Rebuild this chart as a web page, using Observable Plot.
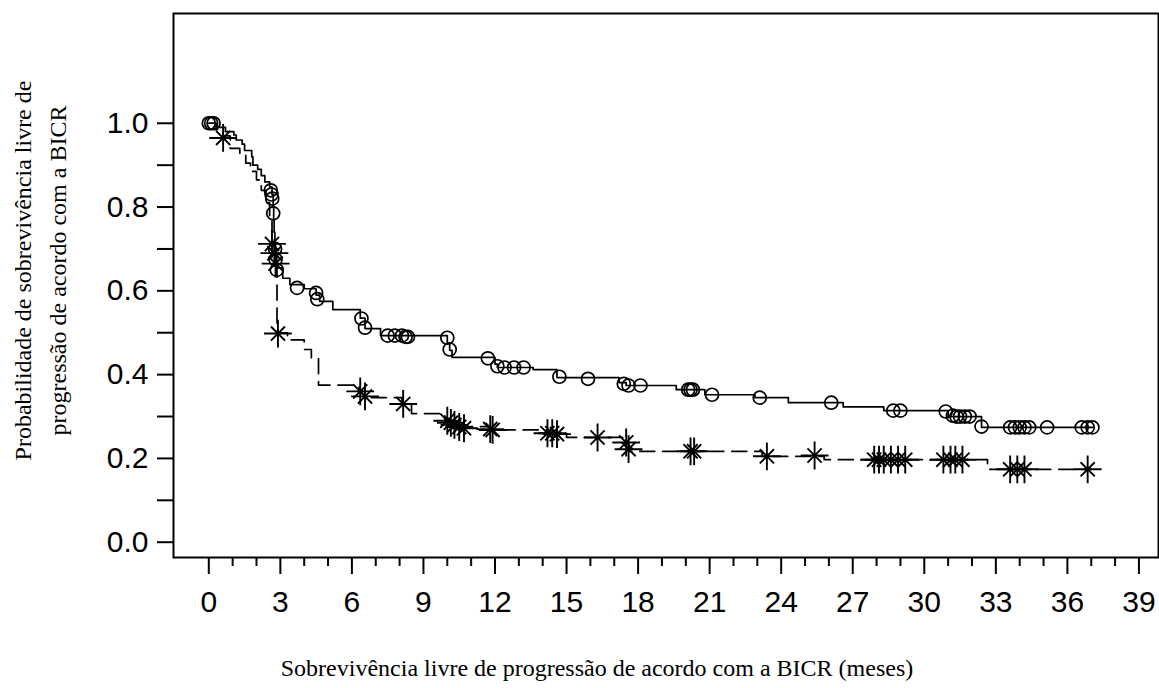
<!DOCTYPE html>
<html><head><meta charset="utf-8">
<script src="https://cdn.jsdelivr.net/npm/d3@7"></script>
<script src="https://cdn.jsdelivr.net/npm/@observablehq/plot@0.6"></script>
<style>html,body{margin:0;padding:0;background:#fff}svg{display:block}</style>
</head><body><div id="chart"></div>
<script>
// Arm A (solid line, open circles = censored)
const stepTimesA = [0,0.35,0.7,1.05,1.15,1.4,1.5,1.8,1.85,2.05,2.2,2.35,2.55,2.65,2.7,2.72,2.74,2.77,2.8,2.85,3.1,3.4,4.0,4.5,4.65,5.2,6.35,6.55,7.2,10.0,10.1,10.2,12.0,12.1,13.6,14.6,17.2,17.5,19.6,20.8,22.9,24.3,26.6,28.3,31.0,32.4,37.05];
const stepSurvA  = [1.0,0.99,0.98,0.972,0.96,0.95,0.935,0.92,0.9,0.89,0.875,0.86,0.848,0.83,0.8,0.77,0.74,0.71,0.68,0.655,0.63,0.615,0.605,0.59,0.575,0.555,0.535,0.51,0.493,0.475,0.458,0.441,0.425,0.417,0.412,0.393,0.381,0.374,0.364,0.352,0.345,0.333,0.323,0.314,0.3,0.274,0.274];
const censorTimesA = [0,0.1,0.2,2.6,2.63,2.66,2.7,2.78,2.8,2.85,3.7,4.5,4.55,6.4,6.55,7.5,7.8,8.1,8.25,8.35,10.0,10.1,11.7,12.1,12.4,12.8,13.2,14.7,15.9,17.4,17.6,18.1,20.1,20.2,20.3,21.1,23.1,26.1,28.7,29.0,30.9,31.2,31.35,31.5,31.7,31.9,32.4,33.6,33.8,34.0,34.2,34.4,35.15,36.6,36.85,37.05];
const censorSurvA  = [1.0,1.0,1.0,0.84,0.83,0.82,0.785,0.7,0.675,0.65,0.607,0.595,0.58,0.534,0.512,0.493,0.493,0.493,0.49,0.49,0.488,0.46,0.439,0.42,0.417,0.417,0.417,0.395,0.39,0.378,0.374,0.374,0.364,0.364,0.364,0.352,0.345,0.333,0.314,0.314,0.312,0.302,0.3,0.3,0.3,0.3,0.276,0.274,0.274,0.274,0.274,0.274,0.274,0.274,0.274,0.274];

// Arm B (dashed line, asterisks = censored)
const stepTimesB = [0,0.3,0.6,0.9,1.3,1.55,1.75,2.0,2.2,2.4,2.55,2.65,2.75,2.8,2.86,3.3,4.0,4.3,4.6,6.3,6.55,8.1,8.5,9.9,10.3,11.8,14.2,15.0,17.5,17.6,23.2,25.8,32.65,37.0];
const stepSurvB  = [1.0,0.985,0.97,0.94,0.925,0.905,0.885,0.865,0.84,0.81,0.775,0.72,0.69,0.665,0.5,0.483,0.46,0.44,0.375,0.36,0.345,0.33,0.307,0.29,0.276,0.268,0.26,0.25,0.236,0.217,0.205,0.197,0.174,0.174];
const censorTimesB = [0.6,2.65,2.75,2.8,2.9,6.35,6.55,8.15,10.0,10.15,10.3,10.5,10.7,11.8,11.9,14.2,14.4,14.6,16.3,17.5,17.6,20.2,20.35,23.4,25.4,27.9,28.1,28.3,28.6,28.9,29.2,30.8,31.1,31.3,31.6,33.6,33.9,34.2,36.85];
const censorSurvB  = [0.965,0.712,0.69,0.665,0.498,0.36,0.348,0.33,0.29,0.285,0.28,0.275,0.272,0.27,0.268,0.26,0.26,0.258,0.25,0.238,0.222,0.217,0.217,0.205,0.207,0.197,0.197,0.197,0.197,0.197,0.197,0.197,0.197,0.197,0.197,0.174,0.174,0.174,0.174];

const xMajorTicks = [0,3,6,9,12,15,18,21,24,27,30,33,36,39];
const xMinorTicks = [1,2,4,5,7,8,10,11,13,14,16,17,19,20,22,23,25,26,28,29,31,32,34,35,37,38];
const yMajorTicks = [0,0.2,0.4,0.6,0.8,1.0];
const yMinorTicks = [0.1,0.3,0.5,0.7,0.9];

const xLabel = "Sobrevivência livre de progressão de acordo com a BICR (meses)";
const yLabel = "Probabilidade de sobrevivência livre de\nprogressão de acordo com a BICR";

const stepsA = stepTimesA.map((t,i)=>({t, s: stepSurvA[i]}));
const stepsB = stepTimesB.map((t,i)=>({t, s: stepSurvB[i]}));
const censA = censorTimesA.map((t,i)=>({t, s: censorSurvA[i]}));
const censB = censorTimesB.map((t,i)=>({t, s: censorSurvB[i]}));

const sans = "'Liberation Sans', Arial, sans-serif";
const serif = "'Liberation Serif', 'Times New Roman', serif";

const chart = Plot.plot({
  width: 1159,
  height: 688,
  marginLeft: 173,
  marginRight: 1,
  marginTop: 13,
  marginBottom: 131,
  style: {background: "#fff", color: "#000"},
  x: {domain: [-1.48, 39.82]},
  y: {domain: [-0.0365, 1.262]},
  marks: [
    Plot.frame({stroke: "#000", strokeWidth: 2}),
    Plot.axisY({ticks: yMajorTicks, tickSize: 16, tickPadding: 9, tickFormat: d => d.toFixed(1), fontSize: 30, fontFamily: sans, strokeWidth: 2, label: null}),
    Plot.axisY({ticks: yMinorTicks, tickSize: 16, tickFormat: () => "", strokeWidth: 2, label: null}),
    Plot.axisX({ticks: xMajorTicks, tickSize: 17, tickPadding: 16, tickFormat: d => String(d), fontSize: 30, fontFamily: sans, strokeWidth: 2, label: null}),
    Plot.axisX({ticks: xMinorTicks, tickSize: 9, tickFormat: () => "", strokeWidth: 2, label: null}),
    Plot.line(stepsA, {x: "t", y: "s", curve: "step-after", stroke: "#000", strokeWidth: 1.7}),
    Plot.line(stepsB, {x: "t", y: "s", curve: "step-after", stroke: "#000", strokeWidth: 1.7, strokeDasharray: "15,8"}),
    Plot.dot(censA, {x: "t", y: "s", r: 6.5, stroke: "#000", fill: "none", strokeWidth: 1.7}),
    Plot.dot(censB, {x: "t", y: "s", symbol: "plus", r: 9, stroke: "#000", strokeWidth: 1.9}),
    Plot.dot(censB, {x: "t", y: "s", symbol: "times", r: 6.5, stroke: "#000", strokeWidth: 1.9}),
    Plot.text([yLabel], {frameAnchor: "left", text: d => d, rotate: -90, textAnchor: "middle", lineAnchor: "middle", dx: -136, dy: -15, fontSize: 24, lineHeight: 1.45, fontFamily: serif, fill: "#000"}),
    Plot.text([xLabel], {frameAnchor: "bottom", text: d => d, dx: -69, dy: 118, fontSize: 24, fontFamily: serif, fill: "#000"})
  ]
});
document.getElementById("chart").appendChild(chart);
</script>
</body></html>
